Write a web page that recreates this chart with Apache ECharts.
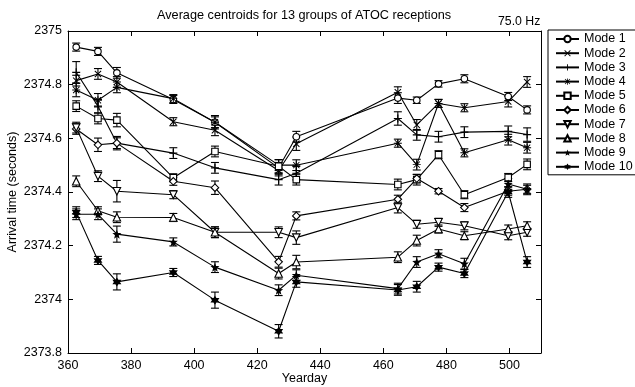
<!DOCTYPE html>
<html>
<head>
<meta charset="utf-8">
<script src="https://cdn.jsdelivr.net/npm/echarts@6/dist/echarts.min.js"></script>
<style>
html,body{margin:0;padding:0;background:#fff}
#main{width:635px;height:387px}
</style>
</head>
<body>
<div id="main"></div>
<script>
// yeardays of the 13 groups
var days = [362.6, 369.5, 375.5, 393.4, 406.6, 426.8, 432.4, 464.6, 470.6, 477.5, 485.7, 499.6, 505.6];
var modeNames = ['Mode 1','Mode 2','Mode 3','Mode 4','Mode 5','Mode 6','Mode 7','Mode 8','Mode 9','Mode 10'];

// average arrival time (s) per mode
var mode1  = [2374.94, 2374.924, 2374.844, 2374.745, 2374.66, 2374.49, 2374.606, 2374.75, 2374.742, 2374.803, 2374.822, 2374.756, 2374.706];
var mode2  = [2374.815, 2374.84, 2374.81, 2374.662, 2374.63, 2374.48, 2374.58, 2374.772, 2374.65, 2374.73, 2374.714, 2374.737, 2374.81];
var mode3  = [2374.846, 2374.72, 2374.582, 2374.545, 2374.49, 2374.446, 2374.47, 2374.674, 2374.613, 2374.606, 2374.623, 2374.626, 2374.614];
var mode4  = [2374.78, 2374.742, 2374.79, 2374.748, 2374.66, 2374.50, 2374.50, 2374.582, 2374.502, 2374.73, 2374.546, 2374.595, 2374.565];
var mode5  = [2374.72, 2374.674, 2374.668, 2374.453, 2374.551, 2374.496, 2374.446, 2374.428, 2374.446, 2374.539, 2374.39, 2374.454, 2374.503];
var mode6  = [2374.635, 2374.576, 2374.582, 2374.44, 2374.416, 2374.14, 2374.311, 2374.373, 2374.45, 2374.403, 2374.342, 2374.403, 2374.41];
var mode7  = [2374.64, 2374.459, 2374.403, 2374.39, 2374.25, 2374.25, 2374.23, 2374.342, 2374.28, 2374.287, 2374.274, 2374.237, 2374.25];
var mode8  = [2374.44, 2374.33, 2374.306, 2374.305, 2374.25, 2374.096, 2374.139, 2374.157, 2374.219, 2374.262, 2374.237, 2374.262, 2374.274];
var mode9  = [2374.317, 2374.317, 2374.243, 2374.214, 2374.12, 2374.034, 2374.09, 2374.04, 2374.139, 2374.17, 2374.133, 2374.43, 2374.41];
var mode10 = [2374.325, 2374.145, 2374.065, 2374.10, 2373.997, 2373.881, 2374.065, 2374.035, 2374.047, 2374.12, 2374.096, 2374.40, 2374.139];

// half length of the error bars (s)
var err1  = [0.015, 0.015, 0.02, 0.015, 0.025, 0.02, 0.02, 0.02, 0.012, 0.012, 0.015, 0.015, 0.015];
var err2  = [0.02, 0.02, 0.02, 0.015, 0.02, 0.02, 0.025, 0.02, 0.02, 0.015, 0.015, 0.02, 0.02];
var err3  = [0.04, 0.025, 0.02, 0.02, 0.02, 0.02, 0.025, 0.025, 0.02, 0.02, 0.02, 0.02, 0.025];
var err4  = [0.025, 0.025, 0.02, 0.015, 0.02, 0.02, 0.02, 0.015, 0.02, 0.015, 0.015, 0.02, 0.02];
var err5  = [0.02, 0.02, 0.025, 0.015, 0.02, 0.025, 0.02, 0.02, 0.02, 0.015, 0.015, 0.015, 0.02];
var err6  = [0.02, 0.025, 0.025, 0.015, 0.025, 0.02, 0.015, 0.015, 0.015, 0.01, 0.015, 0.015, 0.015];
var err7  = [0.02, 0.02, 0.04, 0.015, 0.02, 0.02, 0.025, 0.02, 0.015, 0.015, 0.015, 0.015, 0.015];
var err8  = [0.02, 0.015, 0.02, 0.015, 0.02, 0.02, 0.025, 0.02, 0.02, 0.015, 0.015, 0.015, 0.015];
var err9  = [0.02, 0.02, 0.03, 0.015, 0.02, 0.02, 0.02, 0.02, 0.02, 0.015, 0.02, 0.02, 0.02];
var err10 = [0.02, 0.015, 0.03, 0.015, 0.03, 0.025, 0.02, 0.02, 0.02, 0.015, 0.015, 0.02, 0.02];

var modes = [mode1, mode2, mode3, mode4, mode5, mode6, mode7, mode8, mode9, mode10];
var errs = [err1, err2, err3, err4, err5, err6, err7, err8, err9, err10];

// marker shapes (matlab like)
var plusPath = 'path://M4.3,0h1.4v4.3h4.3v1.4h-4.3v4.3h-1.4v-4.3h-4.3v-1.4h4.3z';
var xPath = 'path://M1,0L5,4L9,0L10,1L6,5L10,9L9,10L5,6L1,10L0,9L4,5L0,1z';
var astPath = 'path://M4.4,0h1.2v4.4h4.4v1.2h-4.4v4.4h-1.2v-4.4h-4.4v-1.2h4.4z M1.5,0.7L5,4.2L8.5,0.7L9.3,1.5L5.8,5L9.3,8.5L8.5,9.3L5,5.8L1.5,9.3L0.7,8.5L4.2,5L0.7,1.5z';
function starPath() {
	var s = 'path://';
	for (var k = 0; k < 10; k++) {
		var r = (k % 2 == 0) ? 5 : 2.1;
		var a = -Math.PI / 2 + k * Math.PI / 5;
		s += (k == 0 ? 'M' : 'L') + (5 + r * Math.cos(a)).toFixed(2) + ',' + (5 + r * Math.sin(a)).toFixed(2);
	}
	return s + 'z';
}
var hexPath = 'path://M5,0L9.33,7.5L0.67,7.5z M5,10L0.67,2.5L9.33,2.5z';

var symbols  = ['circle', xPath, plusPath, astPath, 'rect', 'diamond', 'triangle', 'triangle', starPath(), hexPath];
var symSizes = [6.5, 7, 8, 8, 6.5, 7.5, 7.5, 7.5, 9, 9];
var symRot   = [0, 0, 0, 0, 0, 0, 180, 0, 0, 0];
var openSym  = [true, false, false, false, true, true, true, true, false, false];

var font = '"Liberation Sans", Arial, Helvetica, sans-serif';

var chart = echarts.init(document.getElementById('main'));

var series = [];
var errData = [];
for (var i = 0; i < modes.length; i++) {
	var pts = [];
	for (var j = 0; j < days.length; j++) {
		pts.push([days[j], modes[i][j]]);
		errData.push([days[j], modes[i][j] - errs[i][j], modes[i][j] + errs[i][j]]);
	}
	series.push({
		name: modeNames[i],
		type: 'line',
		data: pts,
		symbol: symbols[i],
		symbolSize: symSizes[i],
		symbolRotate: symRot[i],
		showAllSymbol: true,
		lineStyle: {color: '#000', width: 1.1},
		itemStyle: {
			color: openSym[i] ? '#fff' : '#000',
			borderColor: '#000',
			borderWidth: openSym[i] ? 1.1 : 0
		},
		emphasis: {disabled: true},
		z: 3
	});
}

// error bars with caps
series.push({
	type: 'custom',
	data: errData,
	encode: {x: 0, y: [1, 2]},
	z: 2,
	silent: true,
	renderItem: function (params, api) {
		var top = api.coord([api.value(0), api.value(2)]);
		var bot = api.coord([api.value(0), api.value(1)]);
		var w = 4;
		var st = {stroke: '#000', lineWidth: 1.1};
		return {
			type: 'group',
			children: [
				{type: 'line', shape: {x1: top[0], y1: top[1], x2: bot[0], y2: bot[1]}, style: st},
				{type: 'line', shape: {x1: top[0] - w, y1: top[1], x2: top[0] + w, y2: top[1]}, style: st},
				{type: 'line', shape: {x1: bot[0] - w, y1: bot[1], x2: bot[0] + w, y2: bot[1]}, style: st}
			]
		};
	}
});

function axisBase() {
	return {
		type: 'value',
		axisLine: {show: true, onZero: false, lineStyle: {color: '#000', width: 1}},
		axisTick: {show: true, inside: true, length: 5, lineStyle: {color: '#000'}},
		splitLine: {show: false}
	};
}

var xBottom = axisBase();
xBottom.min = 360; xBottom.max = 510; xBottom.interval = 20;
xBottom.position = 'bottom';
xBottom.name = 'Yearday'; xBottom.nameLocation = 'middle'; xBottom.nameGap = 19;
xBottom.nameMoveOverlap = false;
xBottom.nameTextStyle = {color: '#000', fontSize: 12.5, fontFamily: font};
xBottom.axisLabel = {color: '#000', fontSize: 12.5, margin: 6, fontFamily: font, showMaxLabel: false};

var xTop = axisBase();
xTop.min = 360; xTop.max = 510; xTop.interval = 20;
xTop.position = 'top';
xTop.axisLabel = {show: false};

var yLeft = axisBase();
yLeft.min = 2373.8; yLeft.max = 2375; yLeft.interval = 0.2;
yLeft.position = 'left';
yLeft.name = 'Arrival time (seconds)'; yLeft.nameLocation = 'middle'; yLeft.nameGap = 49; yLeft.nameRotate = 90;
yLeft.nameMoveOverlap = false;
yLeft.nameTextStyle = {color: '#000', fontSize: 12.5, fontFamily: font};
yLeft.axisLabel = {color: '#000', fontSize: 12.5, margin: 6, fontFamily: font,
	formatter: function (v) { return String(+v.toFixed(1)); }};

var yRight = axisBase();
yRight.min = 2373.8; yRight.max = 2375; yRight.interval = 0.2;
yRight.position = 'right';
yRight.axisLabel = {show: false};

var option = {
	animation: false,
	backgroundColor: '#fff',
	textStyle: {fontFamily: font},
	grid: {left: 68, top: 31, right: 94, bottom: 34, containLabel: false, outerBoundsMode: 'none'},
	xAxis: [xBottom, xTop],
	yAxis: [yLeft, yRight],
	legend: {
		data: modeNames,
		orient: 'vertical',
		left: 548,
		top: 30,
		padding: [2, 3, 1, 7],
		itemGap: 0.2,
		itemWidth: 23,
		itemHeight: 8,
		borderColor: '#000',
		borderWidth: 1,
		textStyle: {color: '#000', fontSize: 12.5, fontFamily: font, lineHeight: 14},
		selectedMode: false
	},
	graphic: [
		{type: 'text', left: 157, top: 9,
			style: {text: 'Average centroids for 13 groups of ATOC receptions', fill: '#000',
				font: '12.7px ' + font}},
		{type: 'text', left: 498, top: 16,
			style: {text: '75.0 Hz', fill: '#000', font: '12.3px ' + font}}
	],
	series: series
};
chart.setOption(option);
</script>
</body>
</html>
